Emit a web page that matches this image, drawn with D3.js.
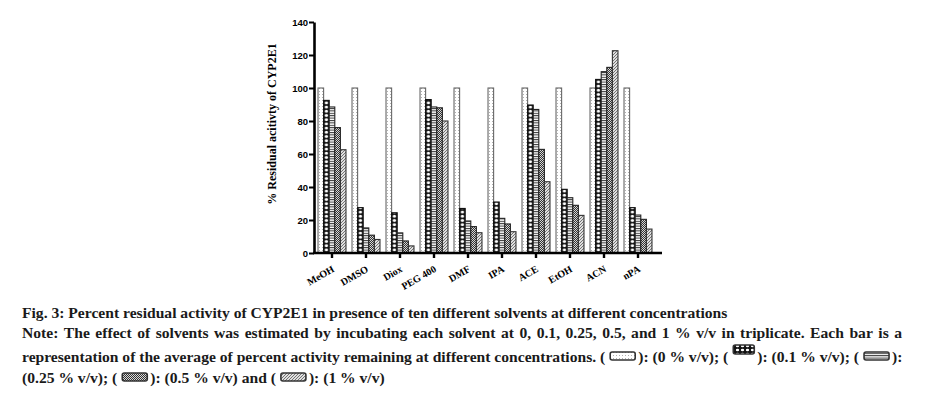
<!DOCTYPE html>
<html>
<head>
<meta charset="utf-8">
<script src="https://cdn.jsdelivr.net/npm/d3@7"></script>
<style>
body { margin: 0; background: #fff; }
svg { display: block; }
</style>
</head>
<body>
<svg id="chart" width="933" height="398"></svg>
<script>
// data
var solvents = ["MeOH", "DMSO", "Diox", "PEG 400", "DMF", "IPA", "ACE", "EtOH", "ACN", "nPA"];
var concentrations = ["0", "0.1", "0.25", "0.5", "1"];
var conc0   = [100, 100, 100, 100, 100, 100, 100, 100, 100, 100];
var conc01  = [92.5, 27.5, 24.4, 93, 27, 30.9, 89.7, 38.6, 105.2, 27.5];
var conc025 = [88.5, 15.2, 12.2, 88.5, 19.4, 21, 87, 33.5, 109.9, 23];
var conc05  = [76, 10.8, 7.3, 88, 16, 17.6, 62.8, 28.9, 112.5, 20.4];
var conc1   = [62.6, 8.2, 4.3, 80, 12.3, 12.9, 43.2, 22.8, 122.6, 14.5];
var yTicks = [0, 20, 40, 60, 80, 100, 120, 140];

var series = [conc0, conc01, conc025, conc05, conc1];

var svg = d3.select("#chart");
svg.append("rect").attr("width", 933).attr("height", 398).attr("fill", "#fff");

// scales
var x0 = d3.scaleBand().domain(solvents).range([315, 655]);
var x1 = d3.scaleBand().domain(concentrations).range([0, x0.bandwidth()]).paddingOuter(0.54);
var y = d3.scaleLinear().domain([0, 140]).range([253, 22]);

var defs = svg.append("defs");

// bar fill patterns
function pattern(id, w, h) {
    return defs.append("pattern").attr("id", id)
        .attr("patternUnits", "userSpaceOnUse")
        .attr("width", w).attr("height", h);
}
var p0 = pattern("pat0", 3, 3);
p0.append("rect").attr("width", 3).attr("height", 3).attr("fill", "#fff");
p0.append("rect").attr("x", 1).attr("y", 1).attr("width", 1).attr("height", 1).attr("fill", "#b0b0b0");

// 0.1 % fill: a column of white holes, tile aligned to the bar inside its group
var bw = x1.bandwidth();
var p1 = pattern("pat1", bw, 4.2).attr("x", x1("0.1")).attr("y", 0);
p1.append("rect").attr("width", bw).attr("height", 4.2).attr("fill", "#111");
p1.append("ellipse").attr("cx", bw / 2).attr("cy", 2.1)
    .attr("rx", bw * 0.32).attr("ry", 1.45).attr("fill", "#fff");

var p2 = pattern("pat2", 4, 2.4);
p2.append("rect").attr("width", 4).attr("height", 2.4).attr("fill", "#fff");
p2.append("rect").attr("width", 4).attr("height", 1).attr("fill", "#333");

var p3 = pattern("pat3", 2, 2);
p3.append("rect").attr("width", 2).attr("height", 2).attr("fill", "#d8d8d8");
p3.append("rect").attr("width", 1).attr("height", 1).attr("fill", "#333");
p3.append("rect").attr("x", 1).attr("y", 1).attr("width", 1).attr("height", 1).attr("fill", "#333");

var p4 = pattern("pat4", 3, 3);
p4.append("rect").attr("width", 3).attr("height", 3).attr("fill", "#e0e0e0");
p4.append("path").attr("d", "M0,3L3,0M-1,1L1,-1M2,4L4,2").attr("stroke", "#666").attr("stroke-width", 0.9);

// swatch version of the hole tile for the caption
var sw = pattern("swHole", 5, 4).attr("x", 0).attr("y", 0);
sw.append("rect").attr("width", 5).attr("height", 4).attr("fill", "#111");
sw.append("ellipse").attr("cx", 2.5).attr("cy", 2).attr("rx", 1.7).attr("ry", 1.3).attr("fill", "#fff");

var fills = ["url(#pat0)", "url(#pat1)", "url(#pat2)", "url(#pat3)", "url(#pat4)"];
var strokes = ["#666", "#111", "#222", "#222", "#333"];

// bars
var groups = svg.append("g").selectAll("g")
    .data(solvents)
    .enter().append("g")
    .attr("transform", function(d) { return "translate(" + x0(d) + ",0)"; });

groups.selectAll("rect")
    .data(function(d, i) {
        return series.map(function(s, j) { return {c: concentrations[j], k: j, v: s[i]}; });
    })
    .enter().append("rect")
    .attr("x", function(d) { return x1(d.c); })
    .attr("y", function(d) { return y(d.v); })
    .attr("width", bw)
    .attr("height", function(d) { return y(0) - y(d.v); })
    .attr("fill", function(d) { return fills[d.k]; })
    .attr("stroke", function(d) { return strokes[d.k]; })
    .attr("stroke-width", 1.1);

// y axis
var yAxis = svg.append("g")
    .attr("transform", "translate(314,0)")
    .call(d3.axisLeft(y).tickValues(yTicks).tickSize(5).tickSizeOuter(0).tickPadding(1));
yAxis.select(".domain").attr("stroke-width", 2.6);
yAxis.selectAll(".tick line").attr("stroke-width", 2);
yAxis.selectAll(".tick text")
    .attr("font-family", "Liberation Sans, Arial, sans-serif")
    .attr("font-weight", "bold")
    .attr("font-size", 9.5)
    .attr("fill", "#000");

svg.append("text")
    .attr("transform", "rotate(-90)")
    .attr("x", -124)
    .attr("y", 276)
    .attr("text-anchor", "middle")
    .attr("font-family", "Liberation Serif, Times New Roman, serif")
    .attr("font-weight", "bold")
    .attr("font-size", 12)
    .text("% Residual acitivty of CYP2E1");

// x axis
var xAxis = svg.append("g")
    .attr("transform", "translate(0,253)")
    .call(d3.axisBottom(x0).tickSize(5).tickSizeOuter(0));
xAxis.select(".domain").attr("d", "M313,0H662").attr("stroke-width", 2.6);
xAxis.selectAll(".tick line").attr("stroke-width", 2.4);
xAxis.selectAll(".tick text")
    .attr("x", 0)
    .attr("y", 0)
    .attr("dy", 0)
    .attr("transform", "translate(3,18) rotate(-30)")
    .style("text-anchor", "end")
    .attr("font-family", "Liberation Serif, Times New Roman, serif")
    .attr("font-weight", "bold")
    .attr("font-size", 10)
    .attr("fill", "#000");

// caption
var cap = svg.append("g")
    .attr("font-family", "Liberation Serif, Times New Roman, serif")
    .attr("font-weight", "bold")
    .attr("font-size", 15.6)
    .attr("fill", "#1a1a1a");

cap.append("text").attr("x", 22).attr("y", 318)
    .text("Fig. 3: Percent residual activity of CYP2E1 in presence of ten different solvents at different concentrations");

// justified second line
var line2 = "Note: The effect of solvents was estimated by incubating each solvent at 0, 0.1, 0.25, 0.5, and 1 % v/v in triplicate. Each bar is a".split(" ");
var words = line2.map(function(w) {
    var t = cap.append("text").attr("y", 338).text(w);
    return {node: t, w: t.node().getComputedTextLength()};
});
var total = d3.sum(words, function(d) { return d.w; });
var gap = Math.max(4, (880 - total) / (words.length - 1));
var cx = 22;
words.forEach(function(d) {
    d.node.attr("x", cx);
    cx += d.w + gap;
});

// lines with legend swatches
function swatch(x, yTop, w, h, k) {
    cap.append("rect")
        .attr("x", x).attr("y", yTop).attr("width", w).attr("height", h)
        .attr("rx", 2)
        .attr("fill", k === 1 ? "url(#swHole)" : fills[k])
        .attr("stroke", "#333")
        .attr("stroke-width", 1.6);
}
function layLine(items, baseY) {
    var px = 22;
    items.forEach(function(it) {
        if (typeof it === "string") {
            var t = cap.append("text").attr("x", px).attr("y", baseY).text(it);
            px += t.node().getComputedTextLength();
        } else {
            px += 5;
            if (it.k === 1) swatch(px, baseY - 17, 21, 9, it.k);
            else swatch(px, baseY - 10, 25, 8, it.k);
            px += (it.k === 1 ? 21 : 25) + 3;
        }
    });
}
layLine(["representation of the average of percent activity remaining at different concentrations. (", {k: 0},
    "): (0 % v/v); (", {k: 1}, "): (0.1 % v/v); (", {k: 2}, "):"], 362);
layLine(["(0.25 % v/v); (", {k: 3}, "): (0.5 % v/v) and (", {k: 4}, "): (1 % v/v)"], 383);
</script>
</body>
</html>
